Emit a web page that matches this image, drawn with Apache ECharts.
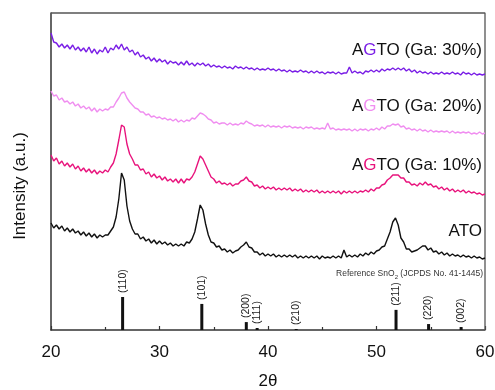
<!DOCTYPE html>
<html>
<head>
<meta charset="UTF-8">
<title>XRD patterns</title>
<script src="https://cdn.jsdelivr.net/npm/echarts@6/dist/echarts.min.js"></script>
<style>
  html, body { margin: 0; padding: 0; background: #fff; }
  #chart { width: 495px; height: 390px; }
</style>
</head>
<body>
<div id="chart"></div>
<script>
// scan: 2θ from 20 to 60, step 0.25
var scanStart = 20, scanStep = 0.25;

var ga30 = [
  297, 288, 287, 283, 286, 282, 285, 281,
  285, 280, 283, 279, 282, 278, 283, 277,
  281, 276, 280, 278, 283, 277, 282, 280,
  285, 281, 286, 280, 283, 278, 280, 275,
  278, 273, 275, 271, 273, 269, 272, 268,
  271, 268, 270, 266, 269, 267, 268, 265,
  268, 265, 269, 265, 267, 264, 267, 265,
  267, 264, 266, 263, 265, 263, 264, 262,
  264, 262, 263, 261, 264, 262, 263, 261,
  263, 261, 262, 260, 262, 260, 261, 260,
  262, 260, 261, 259, 261, 259, 260, 258,
  260, 258, 259, 258, 260, 258, 259, 257,
  259, 257, 259, 257, 258, 256, 258, 257,
  258, 256, 258, 256, 257, 257, 263, 257,
  259, 257, 258, 256, 259, 258, 260, 258,
  260, 258, 261, 259, 261, 260, 262, 260,
  262, 260, 262, 259, 261, 258, 260, 257,
  259, 257, 258, 256, 258, 256, 257, 256,
  258, 256, 257, 256, 258, 256, 257, 255,
  258, 256, 257, 255, 257, 255, 256, 255,
  256
];

var ga20 = [
  239, 234, 235, 230, 232, 228, 229, 226,
  228, 224, 226, 222, 224, 221, 223, 219,
  222, 218, 221, 219, 221, 220, 223, 223,
  228, 232, 237, 238, 232, 228, 225, 222,
  221, 218, 218, 215, 216, 213, 214, 212,
  213, 211, 212, 210, 211, 209, 211, 208,
  210, 208, 210, 209, 212, 211, 214, 217,
  216, 214, 211, 210, 207, 208, 206, 207,
  207, 205, 207, 205, 206, 205, 207, 206,
  209, 207, 206, 204, 205, 204, 205, 203,
  205, 203, 204, 203, 204, 202, 204, 203,
  204, 202, 203, 202, 203, 201, 203, 202,
  203, 201, 202, 201, 202, 201, 207, 201,
  202, 200, 201, 200, 201, 200, 201, 199,
  201, 199, 201, 200, 201, 199, 201, 200,
  202, 200, 203, 201, 204, 204, 206, 205,
  206, 203, 204, 201, 202, 200, 201, 199,
  201, 199, 200, 198, 200, 198, 199, 198,
  199, 198, 199, 197, 199, 197, 198, 197,
  198, 197, 198, 196, 197, 196, 198, 196,
  197
];

var ga10 = [
  175, 169, 172, 166, 169, 164, 167, 163,
  166, 161, 164, 159, 162, 158, 161, 157,
  160, 156, 159, 157, 160, 158, 163, 167,
  176, 190, 205, 203, 186, 176, 171, 165,
  165, 160, 161, 156, 158, 153, 156, 152,
  154, 150, 153, 149, 151, 148, 151, 147,
  151, 147, 151, 150, 153, 158, 166, 174,
  171, 165, 159, 153, 151, 147, 149, 146,
  147, 145, 147, 144, 146, 146, 149, 150,
  153, 149, 148, 144, 145, 142, 144, 141,
  143, 141, 143, 140, 142, 140, 142, 140,
  142, 139, 141, 139, 141, 138, 140, 138,
  140, 138, 140, 137, 139, 137, 139, 137,
  139, 137, 139, 136, 139, 137, 139, 137,
  139, 137, 139, 138, 140, 138, 141, 139,
  142, 142, 145, 146, 150, 152, 155, 155,
  155, 152, 152, 148, 148, 145, 146, 144,
  147, 145, 148, 145, 146, 143, 144, 141,
  143, 140, 142, 139, 141, 138, 140, 138,
  140, 137, 139, 137, 138, 136, 137, 135,
  136
];

var ato = [
  107, 102, 105, 101, 104, 99, 102, 98,
  101, 97, 99, 95, 98, 94, 97, 93,
  96, 92, 95, 93, 95, 95, 99, 103,
  113, 131, 157, 150, 124, 109, 101, 96,
  96, 91, 93, 89, 91, 87, 90, 86,
  89, 86, 88, 85, 87, 84, 86, 84,
  86, 84, 88, 87, 91, 98, 111, 125,
  120, 106, 95, 88, 87, 83, 84, 80,
  81, 78, 80, 77, 79, 80, 83, 85,
  88, 83, 82, 78, 78, 75, 77, 74,
  76, 74, 76, 73, 75, 73, 75, 73,
  75, 73, 75, 72, 74, 72, 74, 72,
  74, 72, 74, 71, 74, 72, 73, 72,
  74, 72, 74, 72, 80, 73, 75, 73,
  75, 73, 76, 74, 77, 75, 78, 76,
  79, 80, 83, 84, 91, 98, 108, 112,
  105, 92, 88, 81, 81, 78, 79, 80,
  82, 84, 84, 80, 82, 78, 79, 76,
  78, 75, 77, 74, 76, 74, 75, 73,
  75, 73, 74, 72, 74, 72, 73, 71,
  72
];

// Reference SnO2 (JCPDS No. 41-1445)
var refAngles = [26.6, 33.9, 38.0, 39.0, 42.6, 51.8, 54.8, 57.8];
var refIntensity = [100, 79, 24, 6, 3, 61, 18, 9];
var refPlanes = ['(110)', '(101)', '(200)', '(111)', '(210)', '(211)', '(220)', '(002)'];
var refScale = 0.33;

var xTicks = [20, 30, 40, 50, 60];
var xMin = 20, xMax = 60, yMin = 0, yMax = 317;

var colors = {
  ga30: '#7a1ee6',
  ga20: '#f08ef0',
  ga10: '#e8137c',
  ato: '#111111'
};

function toPairs(arr) {
  return arr.map(function (v, i) { return [scanStart + i * scanStep, v]; });
}

function lineSeries(name, arr, color) {
  return {
    name: name,
    type: 'line',
    data: toPairs(arr),
    showSymbol: false,
    symbol: 'none',
    lineStyle: { color: color, width: 1.4 },
    silent: true,
    z: 3
  };
}

var chart = echarts.init(document.getElementById('chart'), null, { renderer: 'canvas' });
var font = 'Liberation Sans, Arial, sans-serif';

function sampleLabel(text, gColor, y) {
  return {
    type: 'text',
    x: 482,
    y: y,
    style: {
      text: 'A{g|G}' + text,
      align: 'right',
      verticalAlign: 'middle',
      font: '17px ' + font,
      fill: '#111',
      rich: {
        g: { fill: gColor, fontSize: 17, fontFamily: font }
      }
    }
  };
}

var option = {
  animation: false,
  backgroundColor: '#fff',
  grid: {
    left: 51, right: 10, top: 13, bottom: 60,
    outerBoundsMode: 'none',
    containLabel: false
  },
  xAxis: {
    type: 'value',
    min: xMin,
    max: xMax,
    interval: 10,
    name: '2θ',
    nameLocation: 'middle',
    nameGap: 43,
    nameTextStyle: { fontSize: 17, fontFamily: font, color: '#111' },
    axisLine: { show: true, onZero: false, lineStyle: { color: '#333', width: 1.5 } },
    axisTick: { inside: true, length: 4, lineStyle: { color: '#333', width: 1.2 } },
    minorTick: { show: true, splitNumber: 2, length: 3, lineStyle: { color: '#333', width: 1.2 } },
    axisLabel: {
      fontSize: 17, fontFamily: font, color: '#111', margin: 14,
      customValues: xTicks
    },
    splitLine: { show: false }
  },
  yAxis: {
    type: 'value',
    min: yMin,
    max: yMax,
    axisLine: { show: true, onZero: false, lineStyle: { color: '#333', width: 1.5 } },
    axisTick: { show: false },
    axisLabel: { show: false },
    splitLine: { show: false }
  },
  series: [
    // top + right edges of the plot box, along the axis limits
    {
      name: 'frame',
      type: 'line',
      data: [[xMin, yMax], [xMax, yMax], [xMax, yMin]],
      showSymbol: false,
      symbol: 'none',
      clip: false,
      silent: true,
      lineStyle: { color: '#555', width: 1.3 },
      z: 1
    },
    lineSeries('AGTO (Ga: 30%)', ga30, colors.ga30),
    lineSeries('AGTO (Ga: 20%)', ga20, colors.ga20),
    lineSeries('AGTO (Ga: 10%)', ga10, colors.ga10),
    lineSeries('ATO', ato, colors.ato),
    {
      name: 'Reference SnO2',
      type: 'bar',
      barWidth: 3,
      silent: true,
      data: refAngles.map(function (a, i) {
        return [a, refIntensity[i] * refScale];
      }),
      itemStyle: { color: '#111' },
      label: {
        show: true,
        position: 'top',
        rotate: 90,
        align: 'left',
        verticalAlign: 'middle',
        distance: 4,
        fontSize: 10.5,
        fontFamily: font,
        color: '#222',
        formatter: function (p) { return refPlanes[p.dataIndex]; }
      }
    }
  ],
  graphic: [
    sampleLabel('TO (Ga: 30%)', colors.ga30, 50),
    sampleLabel('TO (Ga: 20%)', colors.ga20, 106),
    sampleLabel('TO (Ga: 10%)', colors.ga10, 165),
    {
      type: 'text', x: 482, y: 231,
      style: { text: 'ATO', align: 'right', verticalAlign: 'middle', font: '17px ' + font, fill: '#111' }
    },
    {
      type: 'text', x: 483, y: 274,
      style: {
        text: 'Reference SnO{s|2} (JCPDS No. 41-1445)',
        align: 'right', verticalAlign: 'middle',
        font: '8.5px ' + font, fill: '#333',
        rich: { s: { fontSize: 6, fontFamily: font, fill: '#333', padding: [6, 0, 0, 0] } }
      }
    },
    {
      type: 'text', x: 20, y: 186, rotation: Math.PI / 2,
      style: { text: 'Intensity (a.u.)', align: 'center', verticalAlign: 'middle', font: '17px ' + font, fill: '#111' }
    }
  ]
};

chart.setOption(option);
</script>
</body>
</html>
